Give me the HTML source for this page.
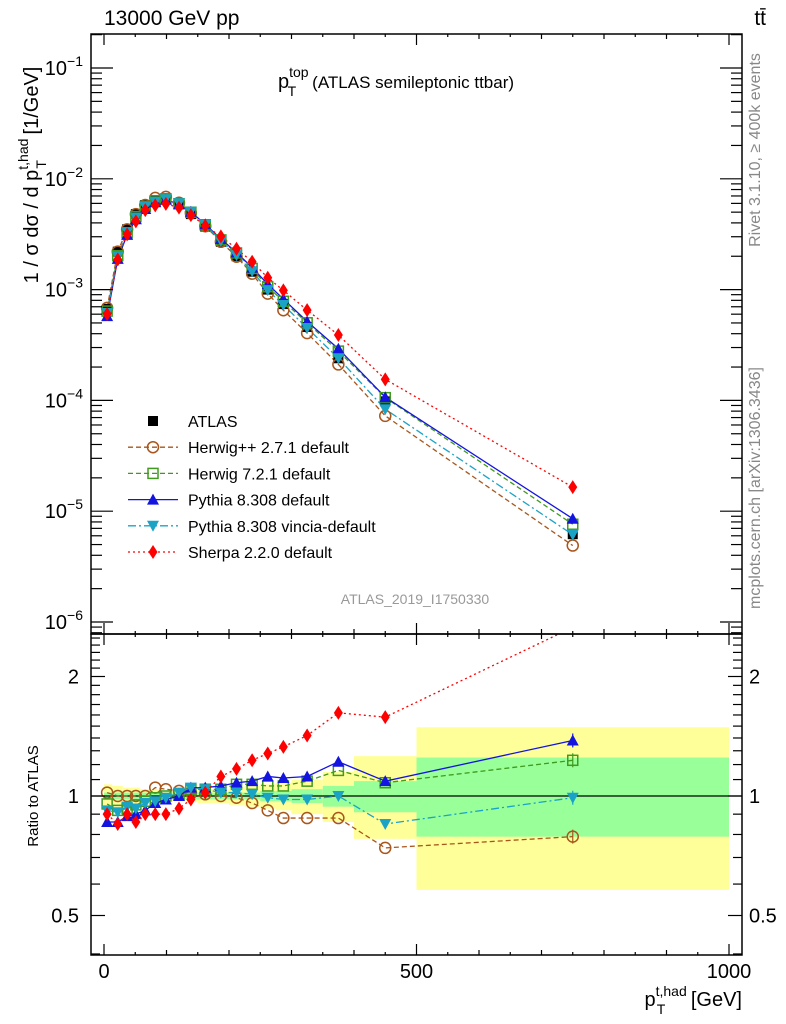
<!DOCTYPE html>
<html><head><meta charset="utf-8"><style>
body{margin:0;background:#fff}
svg{display:block;font-family:"Liberation Sans",sans-serif}
</style></head><body>
<svg id="c" width="786" height="1024" viewBox="0 0 786 1024"></svg>
<script>
const pts=[5,22,37,51,66,82,99,120,139,162,187,212,237,262,287,325,375,450,750];
const edges=[0,13,30,44,58,74,90,110,130,150,175,200,225,250,275,300,350,400,500,1000];
const atlas=[6.7e-4,2.2e-3,3.5e-3,4.8e-3,5.8e-3,6.4e-3,6.6e-3,5.9e-3,4.8e-3,3.7e-3,2.7e-3,2.0e-3,1.45e-3,1.0e-3,7.4e-4,4.6e-4,2.4e-4,9.8e-5,6.2e-6];
const totUp=[1.07,1.06,1.05,1.05,1.04,1.04,1.03,1.03,1.03,1.04,1.04,1.05,1.06,1.07,1.08,1.1,1.15,1.26,1.49];
const totDn=[0.93,0.94,0.95,0.95,0.96,0.96,0.97,0.97,0.97,0.96,0.96,0.95,0.94,0.93,0.92,0.9,0.86,0.78,0.58];
const statUp=[1.02,1.02,1.02,1.02,1.02,1.02,1.02,1.02,1.02,1.02,1.02,1.02,1.02,1.03,1.03,1.04,1.06,1.09,1.25];
const statDn=[0.98,0.98,0.98,0.98,0.98,0.98,0.98,0.98,0.98,0.98,0.98,0.98,0.98,0.97,0.97,0.96,0.94,0.91,0.79];
const rHpp=[1.02,1.0,1.0,1.0,1.0,1.05,1.04,1.03,1.02,1.01,1.0,0.99,0.96,0.92,0.88,0.88,0.88,0.74,0.79];
const rH7=[0.955,0.92,0.93,0.95,0.97,0.99,1.0,1.01,1.04,1.04,1.04,1.07,1.07,1.06,1.06,1.09,1.16,1.08,1.23];
const rPy=[0.86,0.86,0.89,0.9,0.92,0.96,0.98,1.0,1.05,1.05,1.06,1.08,1.09,1.12,1.11,1.12,1.22,1.09,1.38];
const rVin=[0.92,0.91,0.94,0.93,0.96,0.97,0.99,1.02,1.05,1.04,1.02,1.02,1.01,0.99,0.98,0.98,1.0,0.85,0.99];
const rSh=[0.9,0.85,0.9,0.86,0.9,0.9,0.9,0.93,0.98,1.02,1.12,1.17,1.23,1.28,1.33,1.42,1.62,1.58,2.66];
const yTicksMain=["10","10","10","10","10","10"];
const yTickExp=[-1,-2,-3,-4,-5,-6];
const xTicks=[0,500,1000];
const rTicks=[2,1,0.5];

const NS="http://www.w3.org/2000/svg",svg=document.getElementById('c');
function el(t,a,p){const e=document.createElementNS(NS,t);for(const k in a)e.setAttribute(k,a[k]);(p||svg).appendChild(e);return e;}
const X=v=>104+v*0.625;
const YM=v=>68+(-1-Math.log10(v))*110.8;
const YR=r=>796-Math.log2(r)*119.5;
const L=91,R=742,T=34,MID=634,B=955;

const defs=el('defs',{});
const c1=el('clipPath',{id:'cm'},defs);el('rect',{x:L,y:T,width:R-L,height:MID-T},c1);
const c2=el('clipPath',{id:'cr'},defs);el('rect',{x:L,y:MID,width:R-L,height:B-MID},c2);

const gb=el('g',{'clip-path':'url(#cr)'});

pts.forEach((p,i)=>{
 const r1=el('rect',{x:X(edges[i]),y:YR(totUp[i]),width:X(edges[i+1])-X(edges[i]),height:YR(totDn[i])-YR(totUp[i]),fill:'#ffff99'},gb);
 
 const r2=el('rect',{x:X(edges[i]),y:YR(statUp[i]),width:X(edges[i+1])-X(edges[i]),height:YR(statDn[i])-YR(statUp[i]),fill:'#99ff99'},gb);
 
});
el('line',{x1:L,x2:R,y1:YR(1),y2:YR(1),stroke:'#000','stroke-width':1.2});

const series=[
 {n:'herwig-pp',r:rHpp,c:'#a8561c',d:'5,3',m:'circle',lab:'Herwig++ 2.7.1 default'},
 {n:'herwig7',r:rH7,c:'#3f9a1e',d:'5,3',m:'osquare',lab:'Herwig 7.2.1 default'},
 {n:'pythia',r:rPy,c:'#1414e0',d:'',m:'tup',lab:'Pythia 8.308 default'},
 {n:'vincia',r:rVin,c:'#1ba3c6',d:'8,3,2,3',m:'tdn',lab:'Pythia 8.308 vincia-default'},
 {n:'sherpa',r:rSh,c:'#ff0000',d:'2,3',m:'dia',lab:'Sherpa 2.2.0 default'}];
function marker(g,m,x,y,c){
 let e;
 if(m=='circle')e=el('circle',{cx:x,cy:y,r:5.5,fill:'none',stroke:c,'stroke-width':1.5},g);
 else if(m=='osquare')e=el('rect',{x:x-5,y:y-5,width:10,height:10,fill:'none',stroke:c,'stroke-width':1.5},g);
 else if(m=='tup')e=el('polygon',{points:`${x-6},${y+5} ${x+6},${y+5} ${x},${y-6}`,fill:c},g);
 else if(m=='tdn')e=el('polygon',{points:`${x-6},${y-5} ${x+6},${y-5} ${x},${y+6}`,fill:c},g);
 else if(m=='dia')e=el('polygon',{points:`${x},${y-7} ${x+4.5},${y} ${x},${y+7} ${x-4.5},${y}`,fill:c},g);
 else e=el('rect',{x:x-5,y:y-5,width:10,height:10,fill:c},g);
 return e;
}
const gm=el('g',{'clip-path':'url(#cm)'});
series.forEach(s=>{
 const g=el('g',{},gm);
 
 const vals=pts.map((p,i)=>atlas[i]*s.r[i]);
 el('polyline',{points:pts.map((p,i)=>X(p)+','+YM(vals[i])).join(' '),fill:'none',stroke:s.c,'stroke-width':1.3,'stroke-dasharray':s.d},g);
});
const ga=el('g',{},gm);

pts.forEach((p,i)=>{const m=marker(ga,'sq',X(p),YM(atlas[i]),'#000');});
series.forEach(s=>{
 const g=el('g',{},gm);
 
 pts.forEach((p,i)=>{const m=marker(g,s.m,X(p),YM(atlas[i]*s.r[i]),s.c);});
});
const gr=el('g',{'clip-path':'url(#cr)'});
series.forEach(s=>{
 const g=el('g',{},gr);
 
 el('polyline',{points:pts.map((p,i)=>X(p)+','+YR(s.r[i])).join(' '),fill:'none',stroke:s.c,'stroke-width':1.3,'stroke-dasharray':s.d},g);
 pts.forEach((p,i)=>{const m=marker(g,s.m,X(p),YR(s.r[i]),s.c);});
 const n=pts.length-1;
 el('line',{x1:X(pts[n]),x2:X(pts[n]),y1:YR(s.r[n])-7,y2:YR(s.r[n])+7,stroke:s.c,'stroke-width':1.2},g);
});

const fr=el('rect',{x:L,y:T,width:R-L,height:MID-T,fill:'none',stroke:'#000','stroke-width':1.5});

const fr2=el('rect',{x:L,y:MID,width:R-L,height:B-MID,fill:'none',stroke:'#000','stroke-width':1.5});


const tk=el('g',{stroke:'#000','stroke-width':1.2});

for(let v=0;v<=1000;v+=50){const x=X(v),len=v%500==0?11:(v%100==0?5:3);
 [[B,-1],[MID,-1],[MID,1],[T,1]].forEach(([y,s])=>el('line',{x1:x,x2:x,y1:y,y2:y+s*len},tk));}
for(let e=-7;e<=-1;e++)for(let k=1;k<10;k++){const v=k*Math.pow(10,e),y=YM(v);if(y<T||y>MID)continue;
 const len=k==1?22:11;el('line',{x1:L,x2:L+len,y1:y,y2:y},tk);el('line',{x1:R,x2:R-len,y1:y,y2:y},tk);}
const rm=[0.4,0.5,0.6,0.7,0.8,0.9,1,1.1,1.2,1.3,1.4,1.5,1.6,1.7,1.8,1.9,2,2.1,2.2,2.3,2.4,2.5];
rm.forEach(r=>{const y=YR(r);if(y<MID||y>B)return;const big=(r==0.5||r==1||r==2);const len=big?14:9;
 el('line',{x1:L,x2:L+len,y1:y,y2:y},tk);el('line',{x1:R,x2:R-len,y1:y,y2:y},tk);});

function txt(s,a,name){const t=el('text',a);t.textContent=s;return t;}
yTickExp.forEach((e,i)=>{const t=el('text',{x:83,y:YM(Math.pow(10,e))+7,'text-anchor':'end','font-size':20});
 
 t.innerHTML=yTicksMain[i]+'<tspan dy="-9" font-size="14">−'+(-e)+'</tspan>';});
xTicks.forEach(v=>txt(String(v),{x:X(v),y:978,'text-anchor':'middle','font-size':20},'x-tick-label'));
rTicks.forEach(r=>{txt(String(r),{x:79,y:YR(r)+7,'text-anchor':'end','font-size':20},'ratio-tick-label-left');
 txt(String(r),{x:749,y:YR(r)+7,'text-anchor':'start','font-size':20},'ratio-tick-label-right');});
txt('13000 GeV pp',{x:104,y:25,'font-size':21},'collision-label');
txt('tt̄',{x:766,y:25,'text-anchor':'end','font-size':21},'process-label');
const ti=el('text',{x:278,y:88,'font-size':20});
ti.innerHTML='p<tspan dy="-11" font-size="14">top</tspan><tspan dx="-21" dy="19" font-size="14">T</tspan><tspan dx="16" dy="-8" font-size="17">(ATLAS semileptonic ttbar)</tspan>';
txt('ATLAS_2019_I1750330',{x:415,y:604,'text-anchor':'middle','font-size':14,fill:'#999'},'analysis-id');
txt('Rivet 3.1.10, ≥ 400k events',{transform:'translate(760,150) rotate(-90)','text-anchor':'middle','font-size':16,fill:'#888'},'rivet-version-label');
txt('mcplots.cern.ch [arXiv:1306.3436]',{transform:'translate(760,488) rotate(-90)','text-anchor':'middle','font-size':16,fill:'#888'},'mcplots-label');
const yt=el('text',{transform:'translate(38,175) rotate(-90)','text-anchor':'middle','font-size':20});

yt.innerHTML='1 / σ dσ / d p<tspan dy="-10" font-size="14">t,had</tspan><tspan dx="-30" dy="18" font-size="14">T</tspan><tspan dx="20" dy="-8"> [1/GeV]</tspan>';
txt('Ratio to ATLAS',{transform:'translate(38,796) rotate(-90)','text-anchor':'middle','font-size':15},'ratio-axis-title');
const xt=el('text',{x:742,y:1006,'text-anchor':'end','font-size':20});

xt.innerHTML='p<tspan dy="-10" font-size="14">t,had</tspan><tspan dx="-30" dy="18" font-size="14">T</tspan><tspan dx="20" dy="-8"> [GeV]</tspan>';

const lg=el('g',{});
const le0=el('g',{},lg);
marker(le0,'sq',153,421,'#000');
const t0=el('text',{x:188,y:427,'font-size':16},le0);t0.textContent='ATLAS';

series.forEach((s,i)=>{const y=421+(i+1)*26.2;
 const g=el('g',{},lg);
 el('line',{x1:128,x2:178,y1:y,y2:y,stroke:s.c,'stroke-width':1.3,'stroke-dasharray':s.d},g);
 marker(g,s.m,153,y,s.c);
 const t=el('text',{x:188,y:y+6,'font-size':16},g);t.textContent=s.lab;
 });
</script>
</body></html>
